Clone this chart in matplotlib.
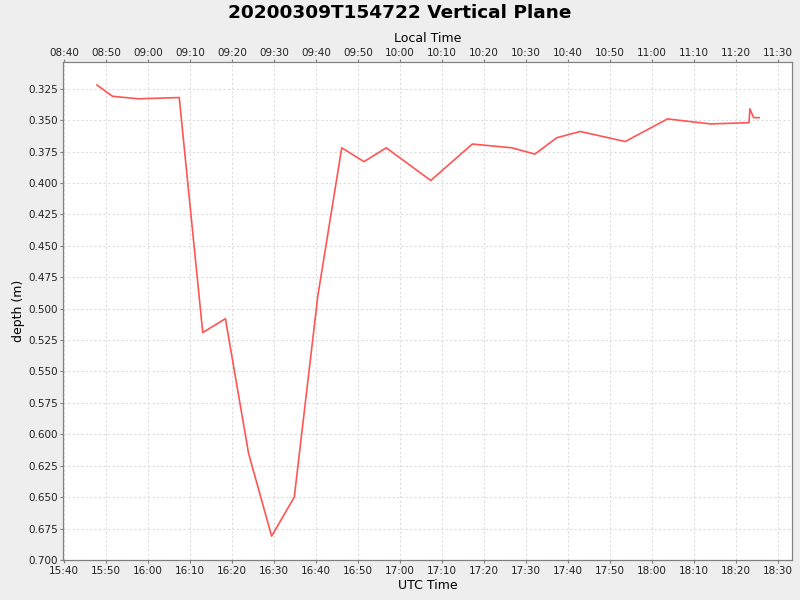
import matplotlib
matplotlib.use("Agg")
import matplotlib.pyplot as plt
import matplotlib.dates as mdates
import pandas as pd

# profile samples (UTC) and depth in metres
times = ["15:47:48", "15:51:30", "15:57:42", "16:07:24", "16:13:00", "16:18:24",
         "16:23:54", "16:29:24", "16:34:48", "16:40:24", "16:46:06", "16:51:24",
         "16:56:42", "17:07:18", "17:17:12", "17:26:36", "17:32:06", "17:37:18",
         "17:42:54", "17:53:36", "18:03:42", "18:14:00", "18:23:06", "18:23:18",
         "18:24:12", "18:25:30"]
depth = [0.322, 0.331, 0.333, 0.332, 0.519, 0.508,
         0.615, 0.681, 0.650, 0.490, 0.372, 0.383,
         0.372, 0.398, 0.369, 0.372, 0.377, 0.364,
         0.359, 0.367, 0.349, 0.353, 0.352, 0.341,
         0.348, 0.348]
day = "2020-03-09"
local_offset_h = 7
title = "20200309T154722 Vertical Plane"

t = pd.to_datetime([day + " " + s for s in times])
x0 = pd.Timestamp(day + " 15:39:46")
x1 = pd.Timestamp(day + " 18:33:20")
off = pd.Timedelta(hours=local_offset_h)

fig = plt.figure(figsize=(8, 6), dpi=100, facecolor="#eeeeee")
ax = fig.add_axes([0.079, 0.0667, 0.911, 0.83])
ax.set_facecolor("white")

ax.plot(t, depth, color="#ff5555", linewidth=1.2)

ax.set_xlim(x0, x1)
ax.set_ylim(0.700, 0.3037)
ax.set_yticks([0.325 + 0.025 * i for i in range(16)])
ax.yaxis.set_major_formatter(plt.FormatStrFormatter("%.3f"))
ax.xaxis.set_major_locator(mdates.MinuteLocator(byminute=range(0, 60, 10)))
ax.xaxis.set_major_formatter(mdates.DateFormatter("%H:%M"))

ax.grid(True, color="#dcdcdc", linestyle=(0, (2, 2)), linewidth=0.8)
ax.set_axisbelow(True)

# local time axis on top
ax2 = ax.twiny()
ax2.set_xlim(x0 - off, x1 - off)
ax2.xaxis.set_major_locator(mdates.MinuteLocator(byminute=range(0, 60, 10)))
ax2.xaxis.set_major_formatter(mdates.DateFormatter("%H:%M"))

for a in (ax, ax2):
    for s in a.spines.values():
        s.set_color("#808080")
    a.tick_params(direction="out", length=2, width=0.8, color="#808080",
                  labelsize=7.5, labelcolor="#222222", pad=2.5)
ax2.tick_params(axis="x", pad=1)
ax.tick_params(axis="y", pad=2)

ax.set_xlabel("UTC Time", fontsize=9, labelpad=2)
ax2.set_xlabel("Local Time", fontsize=9, labelpad=4)
ax.set_ylabel("depth (m)", fontsize=9, labelpad=2)
fig.suptitle(title, fontsize=13.3, fontweight="bold", y=0.993)

fig.savefig("out.png", dpi=100, facecolor=fig.get_facecolor())
